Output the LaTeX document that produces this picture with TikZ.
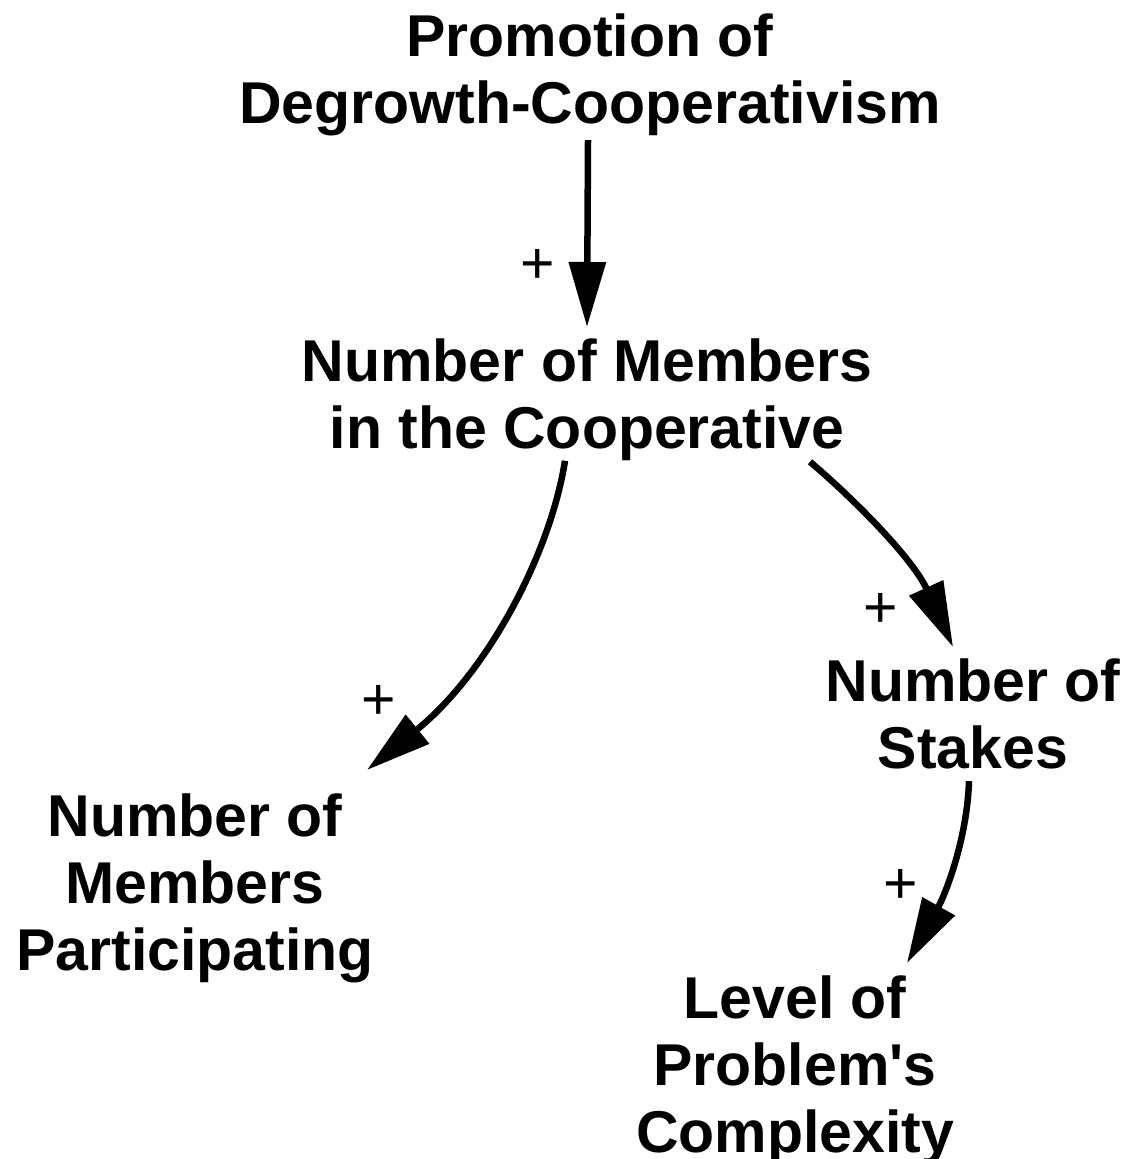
\documentclass[tikz,border=0pt]{standalone}
\usepackage{fontspec}
\setmainfont{Liberation Sans}
\newfontfamily\arialfont{Liberation Sans}
\usetikzlibrary{arrows.meta,calc}
\begin{document}
\begin{tikzpicture}[x=0.5pt,y=-0.5pt,
  var/.style={font=\arialfont\fontsize{29.5}{33.5}\selectfont\bfseries, align=center, inner sep=0pt, anchor=north},
  pol/.style={font=\arialfont\fontsize{29.5}{33.5}\selectfont, inner sep=0pt},
  link/.style={line width=3.25pt, -{Triangle[length=32.5pt,width=18pt]}}]
\useasboundingbox (0,0) rectangle (1129,1159);
\node[var] (promo) at (590,13) {Promotion of\\Degrowth-Cooperativism};
\node[var] (members) at (587,338) {Number of Members\\in the Cooperative};
\node[var] (part) at (195,793) {Number of\\Members\\Participating};
\node[var] (stakes) at (973,658) {Number of\\Stakes};
\node[var] (complex) at (795,975) {Level of\\Problem's\\Complexity};

\draw[link] ($(promo.south)+(-2,4)$) -- ($(members.north)+(0,-11)$);
\draw[link] ($(members.south)+(-22,0)$) .. controls (550,555) and (487,673) .. ($(part.north)+(172,-23)$);
\draw[link] ($(members.south)+(223,1)$) .. controls (855,500) and (913,559) .. ($(stakes.north)+(-20,-11)$);
\draw[link] ($(stakes.south)+(-4,12)$) .. controls (967,840) and (945,895) .. ($(complex.north)+(112,-12)$);

\node[pol] (p1) at (538,266) {+};
\node[pol] (p2) at (379,702) {+};
\node[pol] (p3) at (881,610) {+};
\node[pol] (p4) at (901,886) {+};
\end{tikzpicture}
\end{document}
